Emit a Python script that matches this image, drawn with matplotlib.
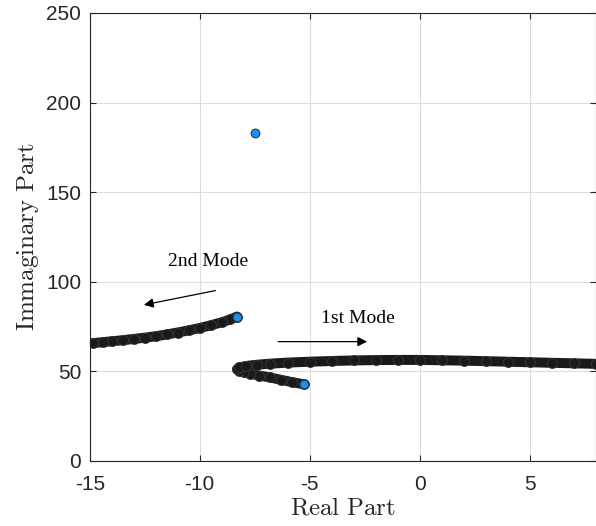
import matplotlib.pyplot as plt

# root locus traces
mode1_re = [-5.27, -5.8, -6.3, -6.8, -7.3, -7.7, -8.0, -8.2, -8.3, -8.2, -7.9, -7.4,
            -6.8, -6.0, -5.0, -4.0, -3.0, -2.0, -1.0, 0.0, 1.0, 2.0, 3.0, 4.0,
            5.0, 6.0, 7.0, 8.0, 8.5]
mode1_im = [42.8, 44.0, 45.3, 46.6, 47.7, 48.7, 49.5, 50.3, 51.2, 52.2, 53.0, 53.7,
            54.3, 54.9, 55.4, 55.8, 56.1, 56.3, 56.4, 56.4, 56.2, 56.0, 55.7, 55.4,
            55.1, 54.8, 54.5, 54.2, 54.1]

mode2_re = [-8.3, -8.6, -9.0, -9.5, -10.0, -10.5, -11.0, -11.5, -12.0, -12.5,
            -13.0, -13.5, -14.0, -14.4, -14.85]
mode2_im = [80.6, 79.0, 77.4, 75.7, 74.2, 72.9, 71.7, 70.6, 69.6, 68.8,
            68.1, 67.4, 66.8, 66.3, 65.8]

# starting poles (blue)
start_re = [-8.3, -5.27, -7.5]
start_im = [80.6, 42.8, 183.0]

xticks = [-15, -10, -5, 0, 5]
yticks = [0, 50, 100, 150, 200, 250]

plt.rcParams['mathtext.fontset'] = 'cm'
plt.rcParams['axes.unicode_minus'] = False

fig = plt.figure(figsize=(5.96, 5.26), dpi=100)
ax = fig.add_axes([0.1505, 0.1236, 0.8487, 0.8517])

for re, im in [(mode1_re, mode1_im), (mode2_re, mode2_im)]:
    ax.plot(re, im, '-', color='#1a1a1a', lw=7.2, solid_capstyle='round', zorder=3)
    ax.plot(re, im, 'o', ms=7.2, mfc='#1a1a1a', mec='#383838', mew=0.6, zorder=4)

ax.plot(start_re, start_im, 'o', ms=6.3, mfc='#2290ea', mec='#1a3a5a', mew=0.8,
        zorder=5, clip_on=False)

arrow = dict(arrowstyle='-|>', color='k', lw=0.9, mutation_scale=14)
ax.annotate('', xy=(-12.66, 86.8), xytext=(-9.16, 95.4), arrowprops=arrow)
ax.annotate('', xy=(-2.26, 66.6), xytext=(-6.56, 66.6), arrowprops=arrow)
ax.text(-9.6, 111.2, '2nd Mode', family='Liberation Serif', fontsize=14,
        ha='center', va='center')
ax.text(-2.81, 79.6, '1st Mode', family='Liberation Serif', fontsize=14,
        ha='center', va='center')

ax.set_xlim(-15, 8)
ax.set_ylim(0, 250)
ax.set_xticks(xticks)
ax.set_yticks(yticks)
ax.tick_params(direction='in', length=4, top=True, right=True, labelsize=15,
               labelcolor='#262626', color='#262626', width=0.8)
ax.tick_params(axis='x', pad=10)
ax.tick_params(axis='y', pad=6)
for lab in ax.get_xticklabels() + ax.get_yticklabels():
    lab.set_family('Liberation Sans')
ax.grid(True, color='#dcdcdc', lw=0.8)
ax.set_axisbelow(True)
for s in ax.spines.values():
    s.set_color('#262626')
    s.set_linewidth(0.8)

ax.set_xlabel(r'$\mathrm{Real\ Part}$', fontsize=18, color='#262626', labelpad=1)
ax.set_ylabel(r'$\mathrm{Immaginary\ Part}$', fontsize=18, color='#262626', labelpad=4)

fig.savefig('out.png', dpi=100)
